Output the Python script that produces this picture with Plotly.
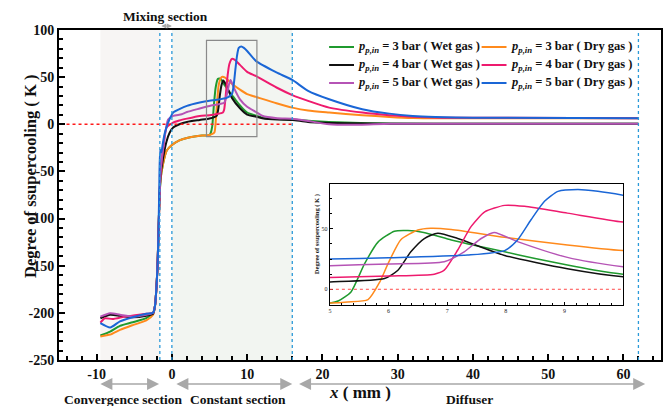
import plotly.graph_objects as go

# ---- series data: x (mm) and degree of supercooling (K) ----
x_wet3 = [-9.5, -8.2, -6.9, -5.2, -3.4, -2.5, -2.25, -1.95, -1.8, -1.68, -1.5, -1.15, -0.7, 0, 1, 2, 3, 4,
          5.0, 5.15, 5.36, 5.59, 5.82, 6.1, 6.33, 6.6, 7.07, 7.5, 7.98, 8.5, 9.05, 9.5, 10, 11.2, 12, 14,
          16, 18.6, 23, 29, 40, 62]
y_wet3 = [-224, -219.8, -213.8, -210, -205.7, -200, -193, -158, -122, -87, -58, -41, -28, -22, -17, -14.5,
          -13, -12, -11.4, -9.5, -2.2, 21, 39, 48, 48.6, 47, 40.8, 36, 31, 25.5, 20, 16, 12.5, 9, 7, 5.5,
          5, 3.5, 1.8, 0.8, 0.7, 0.7]

x_dry3 = [-9.5, -8.2, -6.9, -5.2, -3.4, -2.5, -2.25, -1.95, -1.8, -1.68, -1.5, -1.15, -0.7, 0, 1, 2, 3, 4,
          5.0, 5.3, 5.65, 5.85, 5.99, 6.21, 6.5, 6.72, 7.07, 7.98, 9.05, 10, 11.2, 13.9, 16, 18.1, 20.9,
          25.3, 28.9, 32, 36, 62]
y_dry3 = [-225, -223, -218, -213, -208, -202, -193, -158, -122, -87, -58, -41, -28, -22, -17, -14.5, -13,
          -12, -11.4, -10.5, -8.6, 6, 21, 41, 49, 50.5, 49.5, 43, 36.7, 32, 29, 22.3, 17.7, 14.5, 12.4,
          9.6, 7.8, 6.7, 6.4, 6.4]

x_wet4 = [-9.5, -8.2, -6.9, -5.2, -3.4, -2.5, -2.25, -1.95, -1.8, -1.68, -1.5, -1.15, -0.7, -0.3, 0.17, 1,
          2, 3.7, 5.0, 5.93, 6.16, 6.38, 6.61, 6.84, 7.18, 7.98, 9.05, 10, 11.2, 12, 14, 16, 18.1, 23, 29,
          62]
y_wet4 = [-205.7, -202, -203, -204.6, -203, -201, -193, -158, -122, -87, -55, -35, -18, -9, -3.5, 0, 2.5,
          4.6, 6.1, 8.9, 15.8, 31, 42, 46.4, 42, 28, 17, 10.3, 8, 6.5, 5, 4.6, 2.5, 1.2, 0.5, 0.5]

x_dry4 = [-9.5, -8.9, -7.9, -6.2, -3.4, -2.5, -2.25, -1.95, -1.8, -1.68, -1.5, -1.15, -0.7, 0.17, 1, 2,
          3.7, 5.0, 6, 6.78, 6.95, 7.18, 7.41, 7.64, 7.98, 8.32, 9.05, 10, 11.2, 13.9, 16, 18.1, 20.9,
          25.3, 28.9, 32, 36, 62]
y_dry4 = [-210.3, -205.7, -206.6, -204, -201, -200, -193, -158, -122, -87, -50, -25, -3.5, 1.8, 4, 6,
          8.9, 9.7, 11, 12.5, 15.8, 32.5, 52, 64, 69.4, 68.6, 63, 55.6, 51, 39, 31, 24.8, 17.7, 12.4, 9.6,
          8, 7, 6.5]

x_wet5 = [-9.5, -8.2, -6.9, -5.2, -3.4, -2.5, -2.25, -1.95, -1.8, -1.68, -1.5, -1.15, -0.5, 0.17, 1.3, 2,
          3.7, 5.0, 6, 6.95, 7.29, 7.58, 7.8, 8.2, 9.05, 10, 11.2, 12, 14, 16, 18.1, 20.9, 25, 29, 62]
y_wet5 = [-204, -200.4, -202, -204, -202, -200, -193, -158, -122, -87, -50, -25, 5, 8.9, 10.6, 13, 16.7,
          19.4, 21, 22.8, 31, 42, 47, 39.4, 26.4, 18.6, 13, 9, 6.4, 6, 3.5, 0, -0.5, 0.5, 0.5]

x_dry5 = [-9.5, -8.2, -6.9, -5.2, -3.4, -2.5, -2.25, -1.95, -1.8, -1.68, -1.55, -1.4, -1.2, -0.93, -0.48,
          0.17, 1, 2, 3.7, 5.0, 6, 7.35, 7.98, 8.2, 8.43, 8.66, 8.89, 9.23, 9.57, 10, 11.2, 13.9, 16, 18.1,
          20.9, 25.3, 28.9, 32, 35, 40, 62]
y_dry5 = [-211, -215.6, -209, -204.6, -201, -200, -193, -158, -122, -70, -27, -30, -20, -9, 2, 12.4, 16,
          19.5, 23, 25, 26, 28.3, 32, 40.8, 57.5, 72.8, 81, 82.5, 81, 77.8, 67, 55, 47, 35.5, 26.6, 16,
          11.3, 8.9, 7.8, 7, 6.5]

series_names = [
    "<i>p</i><sub><i>p,in</i></sub> = 3 bar ( Wet gas )",
    "<i>p</i><sub><i>p,in</i></sub> = 3 bar ( Dry gas )",
    "<i>p</i><sub><i>p,in</i></sub> = 4 bar ( Wet gas )",
    "<i>p</i><sub><i>p,in</i></sub> = 4 bar ( Dry gas )",
    "<i>p</i><sub><i>p,in</i></sub> = 5 bar ( Wet gas )",
    "<i>p</i><sub><i>p,in</i></sub> = 5 bar ( Dry gas )",
]
series_x = [x_wet3, x_dry3, x_wet4, x_dry4, x_wet5, x_dry5]
series_y = [y_wet3, y_dry3, y_wet4, y_dry4, y_wet5, y_dry5]
series_colors = ["#1f9a2e", "#ff8a1c", "#111111", "#ee1a6e", "#b553b5", "#1a66d6"]

x_tickvals = [-10, 0, 10, 20, 30, 40, 50, 60]
x_ticktext = ["-10", "0", "10", "20", "30", "40", "50", "60"]
y_tickvals = [-250, -200, -150, -100, -50, 0, 50, 100]
y_ticktext = ["-250", "-200", "-150", "-100", "-50", "0", "50", "100"]
inset_xticks = [5, 6, 7, 8, 9]
inset_yticks = [0, 50]

# section boundaries (mm)
conv_start, mix_start, mix_end, const_end, diff_end = -9.5, -1.6, 0.0, 16.0, 62.0

W, H = 671, 406
ML, MR, MT, MB = 59, 8, 30, 46
PW, PH = W - ML - MR, H - MT - MB


def px_x(p):
    """pixel column -> paper x"""
    return (p - ML) / PW


def px_y(p):
    """pixel row -> paper y"""
    return (H - MB - p) / PH


SERIF = "Liberation Serif"
fig = go.Figure()

for name, xs, ys, col in zip(series_names, series_x, series_y, series_colors):
    fig.add_trace(go.Scatter(x=xs, y=ys, mode="lines", name=name, showlegend=False,
                             line=dict(color=col, width=2, shape="spline", smoothing=0.6)))
for name, xs, ys, col in zip(series_names, series_x, series_y, series_colors):
    fig.add_trace(go.Scatter(x=xs, y=ys, mode="lines", name=name, showlegend=False,
                             xaxis="x2", yaxis="y2",
                             line=dict(color=col, width=1.5, shape="spline", smoothing=0.6)))

shapes = [
    dict(type="rect", xref="x", yref="y", x0=conv_start, x1=mix_start, y0=-250, y1=100,
         fillcolor="#f7f5f4", line_width=0, layer="below"),
    dict(type="rect", xref="x", yref="y", x0=mix_end, x1=const_end, y0=-250, y1=100,
         fillcolor="#f2f5f1", line_width=0, layer="below"),
    dict(type="rect", xref="x", yref="y", x0=4.6, x1=11.3, y0=-13, y1=89,
         line=dict(color="#8a8a8a", width=1.2), fillcolor="rgba(0,0,0,0)"),
    dict(type="line", xref="x", yref="y", x0=-14, x1=const_end, y0=0, y1=0,
         line=dict(color="#ff1a1a", width=1.6, dash="dot")),
    dict(type="line", xref="x2", yref="y2", x0=5, x1=10, y0=0, y1=0,
         line=dict(color="#ff4a4a", width=1, dash="dot")),
]
for xv in [mix_start, mix_end, const_end, diff_end]:
    shapes.append(dict(type="line", xref="x", yref="paper", x0=xv, x1=xv, y0=0, y1=1,
                       line=dict(color="#2b9ad9", width=1.3, dash="dot")))

ann_font = dict(family=SERIF, size=13.5, color="#111", weight="bold")
annotations = [
    dict(text="Mixing section", x=-0.8, y=1.042, xref="x", yref="paper", showarrow=False,
         yanchor="middle", font=ann_font),
    dict(text="Convergence section", x=-6.4, y=-0.121, xref="x", yref="paper", showarrow=False,
         yanchor="middle", font=ann_font),
    dict(text="Constant section", x=8.8, y=-0.121, xref="x", yref="paper", showarrow=False,
         yanchor="middle", font=ann_font),
    dict(text="Diffuser", x=39.5, y=-0.121, xref="x", yref="paper", showarrow=False,
         yanchor="middle", font=ann_font),
    dict(text="<i>x</i> ( mm )", x=25.0, y=-0.097, xref="x", yref="paper", showarrow=False,
         yanchor="middle", font=dict(family=SERIF, size=17, color="#111", weight="bold")),
    dict(text="Degree of ssupercooling ( K )", x=px_x(31), xref="paper", y=0.555,
         yref="paper", xanchor="center", yanchor="middle", showarrow=False, textangle=-90,
         font=dict(family=SERIF, size=16.5, color="#111", weight="bold")),
    dict(text="Degree of ssupercooling ( K )", x=0.429, y=0.382, xref="paper", yref="paper",
         showarrow=False, textangle=-90, xanchor="center", yanchor="middle",
         font=dict(family=SERIF, size=6.5, color="#222", weight="bold")),
]

# two-column key, filled row by row
key_cols = [330, 483]
key_rows = [47, 65, 83]
for i, (name, col) in enumerate(zip(series_names, series_colors)):
    cx = key_cols[i % 2]
    ry = key_rows[i // 2]
    shapes.append(dict(type="line", xref="paper", yref="paper", x0=px_x(cx), x1=px_x(cx + 25),
                       y0=px_y(ry), y1=px_y(ry), line=dict(color=col, width=2)))
    annotations.append(dict(text=name, x=px_x(cx + 27), y=px_y(ry), xref="paper", yref="paper",
                            xanchor="left", yanchor="middle", showarrow=False,
                            font=dict(family=SERIF, size=12.5, color="#111", weight="bold")))

# double-headed section arrows
arrow_specs = [
    (conv_start - 0.2, mix_start - 0.1, -0.0727),
    (mix_end + 0.4, const_end, -0.0727),
    (const_end + 0.7, 62.9, -0.0727),
    (mix_start, mix_end, 1.012),
]
for x0, x1, yp in arrow_specs:
    small = yp > 1
    annotations.append(dict(x=x1, y=yp, xref="x", yref="paper", ax=x0, axref="x", ay=0,
                            ayref="pixel", text="", showarrow=True, arrowside="end+start",
                            arrowhead=2, arrowsize=1.0 if small else 1.5,
                            arrowwidth=1 if small else 1.6, arrowcolor="#a8a8a8"))

axis_common = dict(showgrid=False, zeroline=False, showline=True, linecolor="#000",
                   mirror=True, ticks="inside", tickcolor="#000")

fig.update_layout(
    width=W, height=H,
    margin=dict(l=ML, r=MR, t=MT, b=MB),
    paper_bgcolor="white", plot_bgcolor="white",
    font=dict(family=SERIF, color="#111"),
    shapes=shapes, annotations=annotations,
    showlegend=False,
    xaxis=dict(range=[-15, 65], tickvals=x_tickvals, ticktext=x_ticktext, linewidth=2,
               ticklen=6, tickwidth=2,
               minor=dict(dtick=2, ticks="inside", ticklen=4, tickwidth=1.5, tickcolor="#000"),
               tickfont=dict(family=SERIF, size=14, color="#111", weight="bold"),
               **axis_common),
    yaxis=dict(range=[-250, 100], tickvals=y_tickvals, ticktext=y_ticktext, linewidth=2,
               ticklen=6, tickwidth=2,
               minor=dict(dtick=10, ticks="inside", ticklen=4, tickwidth=1.5, tickcolor="#000"),
               tickfont=dict(family=SERIF, size=14, color="#111", weight="bold"),
               **axis_common),
    xaxis2=dict(domain=[0.450, 0.937], anchor="y2", range=[5, 10], tickvals=inset_xticks,
                linewidth=1.3, ticklen=3, tickwidth=1,
                minor=dict(dtick=0.2, ticks="inside", ticklen=2, tickcolor="#000"),
                tickfont=dict(family=SERIF, size=6, color="#222"), **axis_common),
    yaxis2=dict(domain=[0.1667, 0.533], anchor="x2", range=[-13, 87], tickvals=inset_yticks,
                linewidth=1.3, ticklen=3, tickwidth=1,
                minor=dict(dtick=12.5, ticks="inside", ticklen=2, tickcolor="#000"),
                tickfont=dict(family=SERIF, size=6, color="#222"), **axis_common),
)

fig.write_html("out.html")
